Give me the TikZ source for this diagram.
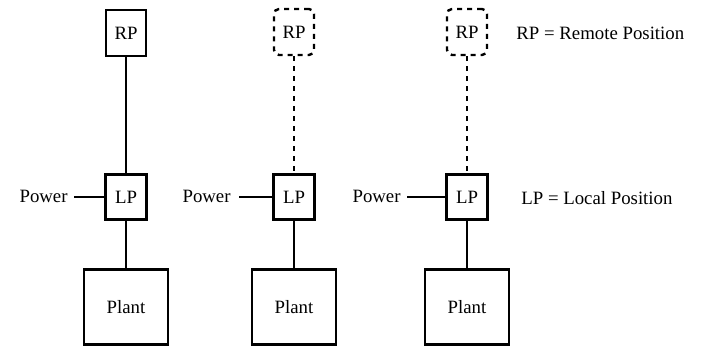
\documentclass[tikz,border=0pt]{standalone}
\usepackage{fontspec}
\setmainfont{Liberation Serif}
\begin{document}
\begin{tikzpicture}[x=0.5pt,y=-0.5pt,
  every node/.style={font=\fontsize{9.4pt}{11pt}\selectfont},
  box/.style={draw,line width=1.2pt,inner sep=0pt},
  rpbox/.style={box,minimum width=20pt,minimum height=23pt},
  rpdash/.style={rpbox,rounded corners=2.5pt,dash pattern=on 2.5pt off 2.5pt},
  lpbox/.style={box,minimum width=20.5pt,minimum height=22.5pt},
  plantbox/.style={box,minimum width=42pt,minimum height=37.5pt},
  wire/.style={line width=1.2pt},
  dwire/.style={line width=1.2pt,dash pattern=on 2.5pt off 2.5pt},
  lbl/.style={inner sep=1pt}]
\useasboundingbox (0,0) rectangle (702,346);
% column 1
\node[rpbox] (rp1) at (126,33) {RP};
\node[lpbox] (lp1) at (126,197) {LP};
\node[plantbox] (pl1) at (126,307) {Plant};
\node[lbl,anchor=east] (pw1) at (70,196) {Power};
\draw[wire] (rp1) -- (lp1);
\draw[wire] (lp1) -- (pl1);
\draw[wire] (lp1.west) -- ([xshift=2pt]lp1.west -| pw1.east);
% column 2
\node[rpdash] (rp2) at (294,32) {RP};
\node[lpbox] (lp2) at (294,197) {LP};
\node[plantbox] (pl2) at (294,307) {Plant};
\node[lbl,anchor=east] (pw2) at (233,196) {Power};
\draw[dwire] (rp2) -- (lp2);
\draw[wire] (lp2) -- (pl2);
\draw[wire] (lp2.west) -- ([xshift=3pt]lp2.west -| pw2.east);
% column 3
\node[rpdash] (rp3) at (467,32) {RP};
\node[lpbox] (lp3) at (467,197) {LP};
\node[plantbox] (pl3) at (467,307) {Plant};
\node[lbl,anchor=east] (pw3) at (403,196) {Power};
\draw[dwire] (rp3) -- (lp3);
\draw[wire] (lp3) -- (pl3);
\draw[wire] (lp3.west) -- ([xshift=2pt]lp3.west -| pw3.east);
% legend
\node[lbl,anchor=west] (leg1) at (514,33) {RP = Remote Position};
\node[lbl,anchor=west] (leg2) at (519,198) {LP = Local Position};
\end{tikzpicture}
\end{document}
